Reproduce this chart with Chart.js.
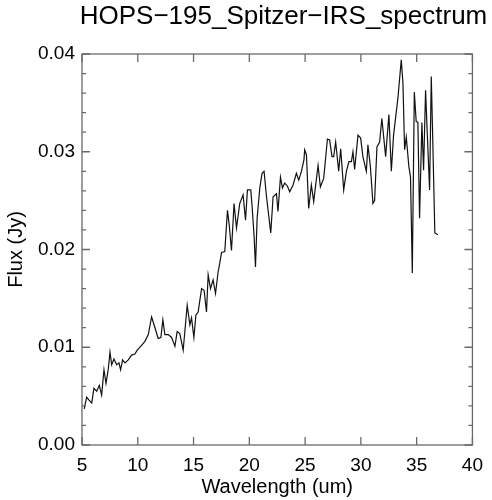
<!DOCTYPE html>
<html lang="en">
<head>
  <meta charset="UTF-8">
  <title>HOPS-195 Spitzer-IRS spectrum</title>
  <script src="https://cdn.jsdelivr.net/npm/chart.js"></script>
  <style>
    html, body {
      margin: 0;
      padding: 0;
      background: #fff;
    }
    #wrap {
      width: 492px;
      height: 500px;
    }
  </style>
</head>
<body>

<div id="wrap">
  <canvas id="myChart"></canvas>
</div>

<script>
  const titleText = 'HOPS\u2212195_Spitzer\u2212IRS_spectrum';

  const wavelength = [
    5.2, 5.42, 5.63, 5.87, 6.07, 6.32, 6.55, 6.76, 6.97, 7.15,
    7.35, 7.51, 7.66, 7.86, 8.11, 8.31, 8.46, 8.64, 8.85, 9.15,
    9.45, 9.74, 9.95, 10.34, 10.64, 10.94, 11.24, 11.54, 11.83, 12.07,
    12.25, 12.43, 12.73, 13.03, 13.33, 13.53, 13.77, 14.07, 14.43, 14.67,
    14.82, 15.03, 15.21, 15.41, 15.72, 15.95, 16.16, 16.31, 16.52, 16.75,
    16.97, 17.2, 17.35, 17.51, 17.8, 18.04, 18.2, 18.4, 18.63, 18.85,
    19.14, 19.44, 19.66, 19.83, 20.13, 20.25, 20.43, 20.55, 20.7, 20.94,
    21.14, 21.32, 21.54, 21.92, 22.13, 22.43, 22.57, 22.79, 22.97, 23.17,
    23.41, 23.62, 23.92, 24.22, 24.43, 24.67, 24.9, 24.96, 25.12, 25.32,
    25.56, 25.77, 26.16, 26.37, 26.67, 27.0, 27.2, 27.41, 27.56, 27.74,
    28.01, 28.19, 28.46, 28.7, 28.93, 29.15, 29.29, 29.44, 29.74, 29.98,
    30.18, 30.49, 30.63, 30.85, 31.08, 31.23, 31.44, 31.68, 31.88, 32.22,
    32.51, 32.73, 32.93, 33.32, 33.62, 33.77, 33.92, 34.07, 34.3, 34.45,
    34.61, 34.79, 34.96, 35.11, 35.26, 35.47, 35.62, 35.8, 35.95, 36.16,
    36.31, 36.45, 36.63, 36.9
  ];

  const flux = [
    0.0037, 0.0049, 0.0046, 0.0043, 0.0058, 0.0055, 0.0061, 0.0051, 0.0077, 0.0063,
    0.0077, 0.0095, 0.0082, 0.0088, 0.0082, 0.0084, 0.0077, 0.0087, 0.0084, 0.0087,
    0.0092, 0.0093, 0.0097, 0.0102, 0.0106, 0.0113, 0.0131, 0.0120, 0.0109, 0.0110,
    0.0128, 0.0113, 0.0113, 0.0110, 0.0101, 0.0116, 0.0114, 0.0097, 0.0143, 0.0123,
    0.0130, 0.0110, 0.0133, 0.0136, 0.0160, 0.0158, 0.0136, 0.0174, 0.0160, 0.0169,
    0.0155, 0.0177, 0.0186, 0.0197, 0.0198, 0.0240, 0.0225, 0.0199, 0.0247, 0.0222,
    0.0247, 0.0256, 0.0230, 0.0261, 0.0261, 0.0244, 0.0213, 0.0182, 0.0232, 0.0263,
    0.0278, 0.0280, 0.0254, 0.0217, 0.0254, 0.0257, 0.0239, 0.0274, 0.0263, 0.0268,
    0.0265, 0.0259, 0.0266, 0.0278, 0.0271, 0.0280, 0.0292, 0.0302, 0.0297, 0.0242,
    0.0266, 0.0249, 0.0286, 0.0264, 0.0273, 0.0313, 0.0312, 0.0295, 0.0295, 0.0310,
    0.0280, 0.0303, 0.0261, 0.0280, 0.0290, 0.0290, 0.0300, 0.0282, 0.0317, 0.0314,
    0.0295, 0.0280, 0.0307, 0.0285, 0.0247, 0.0250, 0.0305, 0.0310, 0.0334, 0.0295,
    0.0338, 0.0280, 0.0317, 0.0355, 0.0394, 0.0370, 0.0302, 0.0315, 0.0285, 0.0274,
    0.0176, 0.0361, 0.0331, 0.0330, 0.0232, 0.0330, 0.0281, 0.0363, 0.0319, 0.0261,
    0.0377, 0.0309, 0.0217, 0.0215
  ];

  const xTicks = [5, 10, 15, 20, 25, 30, 35, 40];
  const yTicks = [0.00, 0.01, 0.02, 0.03, 0.04];
  const yMinorPerMajor = 5;

  const fontFamily = '"Liberation Sans", Arial, Helvetica, sans-serif';
  const frameColor = '#6a6a6a';

  // title, frame and inward ticks in IDL style
  const idlFrame = {
    id: 'idlFrame',
    afterDraw(chart) {
      const { ctx, chartArea: a, scales: { x, y } } = chart;
      ctx.save();
      ctx.strokeStyle = frameColor;
      ctx.lineWidth = 1.3;
      ctx.strokeRect(a.left, a.top, a.right - a.left, a.bottom - a.top);

      ctx.beginPath();
      xTicks.forEach(v => {
        const px = x.getPixelForValue(v);
        ctx.moveTo(px, a.bottom); ctx.lineTo(px, a.bottom - 8);
        ctx.moveTo(px, a.top); ctx.lineTo(px, a.top + 8);
      });
      for (let i = 0; i < yTicks.length; i++) {
        const py = y.getPixelForValue(yTicks[i]);
        ctx.moveTo(a.left, py); ctx.lineTo(a.left + 8, py);
        ctx.moveTo(a.right, py); ctx.lineTo(a.right - 8, py);
        if (i < yTicks.length - 1) {
          const step = (yTicks[i + 1] - yTicks[i]) / yMinorPerMajor;
          for (let k = 1; k < yMinorPerMajor; k++) {
            const pm = y.getPixelForValue(yTicks[i] + k * step);
            ctx.moveTo(a.left, pm); ctx.lineTo(a.left + 4, pm);
            ctx.moveTo(a.right, pm); ctx.lineTo(a.right - 4, pm);
          }
        }
      }
      ctx.stroke();

      ctx.fillStyle = '#000';
      ctx.font = '26px ' + fontFamily;
      ctx.textAlign = 'center';
      ctx.textBaseline = 'alphabetic';
      ctx.fillText(titleText, 283.5, 24);
      ctx.restore();
    }
  };

  const ctx = document.getElementById('myChart').getContext('2d');
  const myChart = new Chart(ctx, {
    type: 'scatter',
    data: {
      datasets: [{
        label: 'Flux',
        data: wavelength.map((w, i) => ({ x: w, y: flux[i] })),
        showLine: true,
        borderColor: '#111',
        borderWidth: 1.2,
        pointRadius: 0,
        tension: 0
      }]
    },
    options: {
      responsive: true,
      maintainAspectRatio: false,
      animation: false,
      layout: {
        padding: { top: 54, right: 19, left: 0, bottom: 0 }
      },
      plugins: {
        legend: { display: false },
        tooltip: { enabled: false }
      },
      scales: {
        x: {
          type: 'linear',
          min: 5,
          max: 40,
          afterFit: scale => { scale.height = 55; },
          afterBuildTicks: scale => { scale.ticks = xTicks.map(v => ({ value: v })); },
          grid: { display: false, drawTicks: false },
          border: { display: false },
          ticks: {
            padding: 9,
            color: '#000',
            maxRotation: 0,
            font: { family: fontFamily, size: 19 }
          },
          title: {
            display: true,
            text: 'Wavelength (um)',
            color: '#000',
            padding: { top: 0, bottom: 1 },
            font: { family: fontFamily, size: 20 }
          }
        },
        y: {
          type: 'linear',
          min: 0,
          max: 0.04,
          afterFit: scale => { scale.width = 82; },
          afterBuildTicks: scale => { scale.ticks = yTicks.map(v => ({ value: v })); },
          grid: { display: false, drawTicks: false },
          border: { display: false },
          ticks: {
            padding: 7,
            color: '#000',
            font: { family: fontFamily, size: 19 },
            callback: v => v.toFixed(2)
          },
          title: {
            display: true,
            text: 'Flux (Jy)',
            color: '#000',
            padding: { top: 4, bottom: 0 },
            font: { family: fontFamily, size: 20 }
          }
        }
      }
    },
    plugins: [idlFrame]
  });
</script>

</body>
</html>
